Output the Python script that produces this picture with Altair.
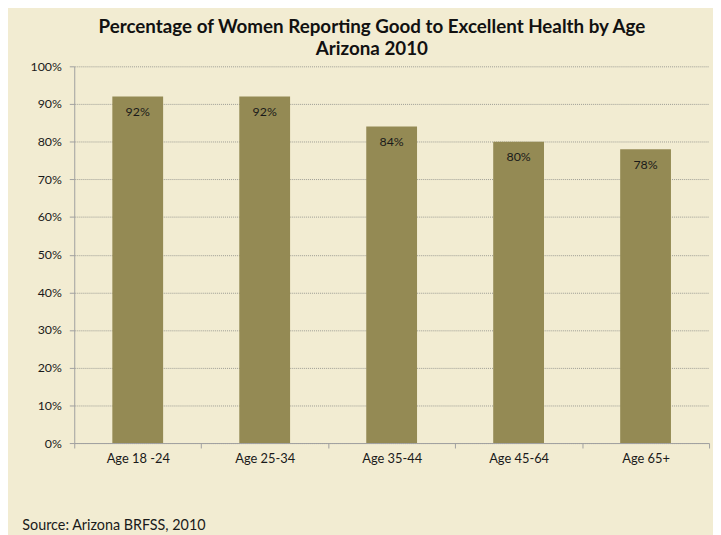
import altair as alt
import pandas as pd

categories = ["Age 18 -24", "Age 25-34", "Age 35-44", "Age 45-64", "Age 65+"]
values = [0.92, 0.92, 0.84, 0.80, 0.78]
labels = ["92%", "92%", "84%", "80%", "78%"]
y_ticks = [0, 0.1, 0.2, 0.3, 0.4, 0.5, 0.6, 0.7, 0.8, 0.9, 1.0]

df = pd.DataFrame({"age": categories, "pct": values, "label": labels})

FONT = "Lato"
BG = "#F2ECD2"
BAR = "#948A54"

x_enc = alt.X(
    "age:N",
    sort=categories,
    scale=alt.Scale(paddingInner=0, paddingOuter=0),
    axis=alt.Axis(
        title="Source: Arizona BRFSS, 2010",
        titleX=-53,
        titleY=83,
        titleAlign="left",
        titleAnchor="start",
        titleBaseline="middle",
        titleFontSize=14.5,
        titleFontWeight="normal",
        titleColor="#1a1a1a",
        titleFont=FONT,
        labelAngle=0,
        labelFontSize=13,
        labelFont=FONT,
        labelColor="#1a1a1a",
        labelPadding=5,
        tickBand="extent",
        tickSize=5,
        tickColor="#A0A0A0",
        domainColor="#A0A0A0",
        grid=False,
    ),
)

y_enc = alt.Y(
    "pct:Q",
    scale=alt.Scale(domain=[0, 1], nice=False),
    axis=alt.Axis(
        title=None,
        values=y_ticks,
        labelOverlap=False,
        format=".0%",
        labelFontSize=12.5,
        labelFont=FONT,
        labelColor="#1a1a1a",
        labelPadding=8,
        tickSize=5,
        tickColor="#A0A0A0",
        domainColor="#A0A0A0",
        grid=True,
        gridColor="#9C9C94",
        gridDash=[1, 1],
        gridWidth=1,
    ),
)

bars = alt.Chart(df).mark_bar(
    color=BAR, width=alt.RelativeBandSize(0.4)
).encode(x=x_enc, y=y_enc)

text = alt.Chart(df).mark_text(
    baseline="middle", dy=16, fontSize=12.5, font=FONT, color="#1a1a1a"
).encode(x=x_enc, y=y_enc, text="label:N")

chart = (
    alt.layer(bars, text)
    .properties(
        width=642,
        height=381,
        background=BG,
        padding={"left": 67, "top": 56, "right": 4, "bottom": 90},
        autosize=alt.AutoSizeParams(type="none"),
        title=alt.TitleParams(
            text=["Percentage of Women Reporting Good to Excellent Health by Age", "Arizona 2010"],
            font=FONT,
            fontSize=19,
            fontWeight="bold",
            color="#111111",
            anchor="middle",
            dx=-20,
            lineHeight=23,
            offset=1,
        ),
    )
    .configure_view(stroke=None)
)

chart.save("out.html", embed_options={"renderer": "svg", "actions": False})
